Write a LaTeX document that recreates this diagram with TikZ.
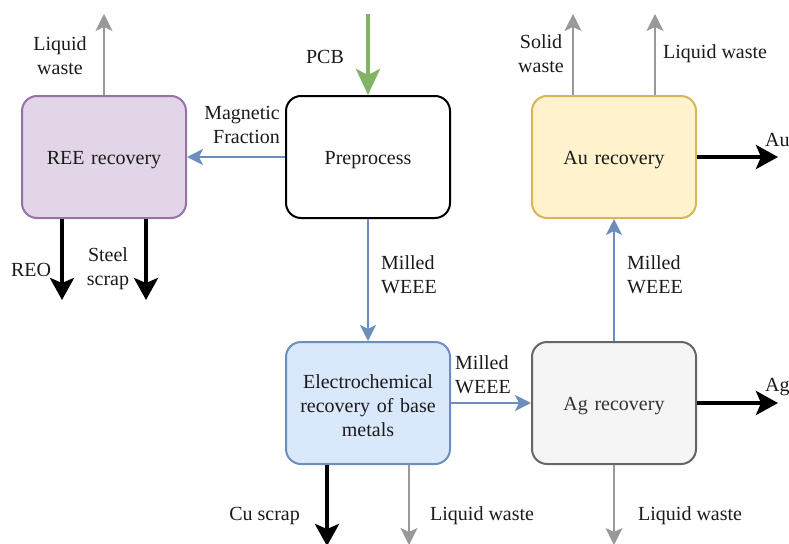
\documentclass[tikz,border=0pt]{standalone}
\usepackage{fontspec}
\setmainfont{Liberation Serif}
\usetikzlibrary{arrows.meta}
\definecolor{reefill}{HTML}{E1D5E7}\definecolor{reeline}{HTML}{9673A6}
\definecolor{aufill}{HTML}{FFF2CC}\definecolor{auline}{HTML}{D6B656}
\definecolor{ecfill}{HTML}{DAE8FC}\definecolor{ecline}{HTML}{6C8EBF}
\definecolor{agfill}{HTML}{F5F5F5}\definecolor{agline}{HTML}{666666}
\definecolor{agtext}{HTML}{333333}
\definecolor{pcbgreen}{HTML}{82B366}
\definecolor{wastegray}{HTML}{999999}
\definecolor{txt}{HTML}{1A1A1A}
\begin{document}
\begin{tikzpicture}[x=1pt,y=-1pt,
  every node/.style={font=\fontsize{20}{24}\selectfont, text=txt},
  proc/.style={draw, line width=2pt, rounded corners=15pt, minimum width=164pt,
    minimum height=122pt, inner sep=0pt},
  proctext/.style={align=center, text width=150pt, inner sep=0pt, yshift=-3pt},
  flow/.style={ecline, line width=2pt, -{Stealth[length=16pt,width=16pt,inset=4pt]}},
  waste/.style={wastegray, line width=2pt, -{Stealth[length=17pt,width=17pt,inset=4pt]}},
  product/.style={black, line width=4pt, -{Stealth[length=22pt,width=24pt,inset=5pt]}},
  feed/.style={pcbgreen, line width=4pt, -{Stealth[length=26pt,width=24pt,inset=6pt]}},
  lbl/.style={inner sep=0pt, align=center, yshift=-2pt}
]
\useasboundingbox (0,0) rectangle (789,543);

% process boxes
\node[proc, fill=reefill, draw=reeline] (ree) at (104,157) {};
\node[proc, fill=white, draw=black] (pre) at (368,157) {};
\node[proc, fill=aufill, draw=auline] (au) at (614,157) {};
\node[proc, fill=ecfill, draw=ecline] (ec) at (368,403) {};
\node[proc, fill=agfill, draw=agline] (ag) at (614,403) {};

% box captions
\node[proctext] (reet) at (ree.center) {REE recovery};
\node[proctext] (pret) at (pre.center) {Preprocess};
\node[proctext] (aut) at (au.center) {Au recovery};
\node[proctext] (ect) at (ec.center) {Electrochemical\\recovery of base\\metals};
\node[proctext, text=agtext] (agt) at (ag.center) {Ag recovery};

% free ends of the side streams
\coordinate (pcbin) at (368,14);
\coordinate (reeup) at (104,14);
\coordinate (reo) at (62,300);
\coordinate (steel) at (146,300);
\coordinate (auup1) at (573,14);
\coordinate (auup2) at (655,14);
\coordinate (auout) at (778,157);
\coordinate (agout) at (778,403);
\coordinate (cuout) at (327,546);
\coordinate (ecwaste) at (409,545);
\coordinate (agwaste) at (614,545);

% main flow
\draw[feed] (pcbin) -- (pre.north);
\draw[flow] (pre.west) -- (ree.east);
\draw[flow] (pre.south) -- (ec.north);
\draw[flow] (ec.east) -- (ag.west);
\draw[flow] (ag.north) -- (au.south);

% products and waste streams
\draw[waste] (ree.north) -- (reeup);
\draw[product] (ree.south -| reo) -- (reo);
\draw[product] (ree.south -| steel) -- (steel);
\draw[waste] (au.north -| auup1) -- (auup1);
\draw[waste] (au.north -| auup2) -- (auup2);
\draw[product] (au.east) -- (auout);
\draw[product] (ag.east) -- (agout);
\draw[product] (ec.south -| cuout) -- (cuout);
\draw[waste] (ec.south -| ecwaste) -- (ecwaste);
\draw[waste] (ag.south) -- (agwaste);

% stream labels
\node[lbl] at (60,54) {Liquid\\waste};
\node[lbl] at (325,55) {PCB};
\node[lbl, align=right, anchor=east] at (280,123) {Magnetic\\Fraction};
\node[lbl] at (31,268) {REO};
\node[lbl] at (108,267) {Steel\\scrap};
\node[lbl, align=left, anchor=west] at (381,273) {Milled\\WEEE};
\node[lbl, align=left, anchor=west] at (455,373) {Milled\\WEEE};
\node[lbl, align=left, anchor=west] at (627,273) {Milled\\WEEE};
\node[lbl] at (541,52) {Solid\\waste};
\node[lbl, anchor=west] at (663,52) {Liquid waste};
\node[lbl, anchor=west] at (765,138) {Au};
\node[lbl, anchor=west] at (765,385) {Ag};
\node[lbl, anchor=east] at (300,514) {Cu scrap};
\node[lbl, anchor=west] at (430,514) {Liquid waste};
\node[lbl, anchor=west] at (638,514) {Liquid waste};
\end{tikzpicture}
\end{document}
